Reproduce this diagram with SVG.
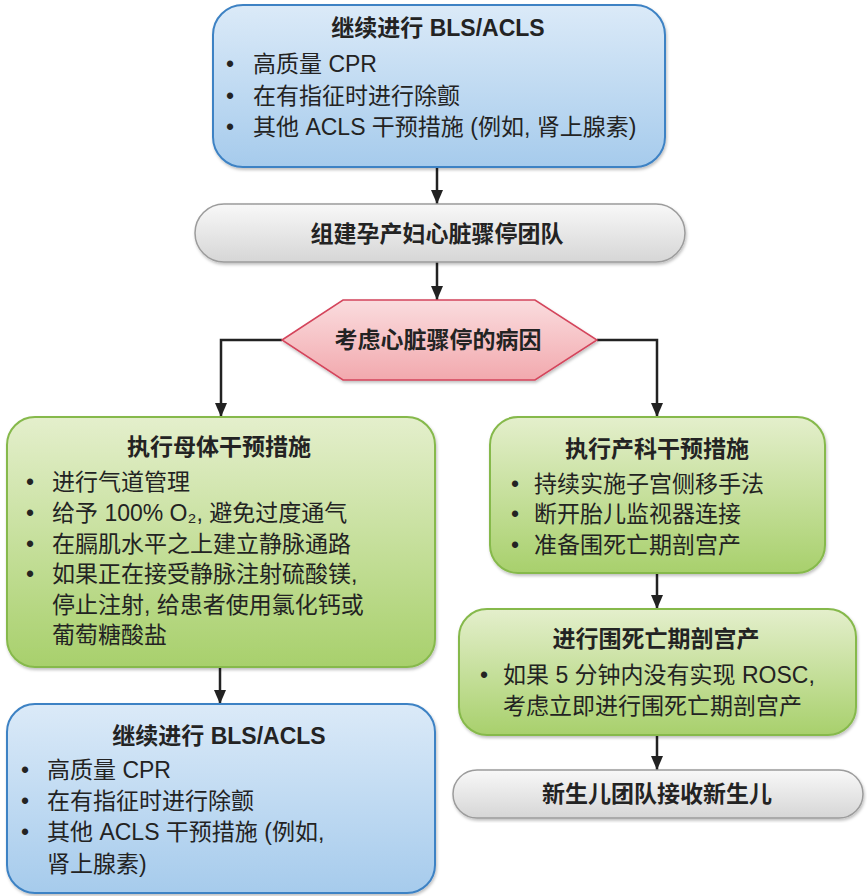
<svg xmlns="http://www.w3.org/2000/svg" width="867" height="896" viewBox="0 0 867 896">
<defs>
<linearGradient id="gBlue" x1="0" y1="0" x2="0" y2="1"><stop offset="0" stop-color="#dbeaf8"/><stop offset="1" stop-color="#a6cbec"/></linearGradient>
<linearGradient id="gGreen" x1="0" y1="0" x2="0" y2="1"><stop offset="0" stop-color="#e4efcc"/><stop offset="1" stop-color="#a8d06c"/></linearGradient>
<linearGradient id="gGray" x1="0" y1="0" x2="0" y2="1"><stop offset="0" stop-color="#f8f8f8"/><stop offset="1" stop-color="#d6d6d6"/></linearGradient>
<linearGradient id="gPink" x1="0" y1="0" x2="0" y2="1"><stop offset="0" stop-color="#fadcde"/><stop offset="1" stop-color="#f2a9ae"/></linearGradient>
<filter id="sh" x="-5%" y="-5%" width="110%" height="115%"><feDropShadow dx="1" dy="2" stdDeviation="1.5" flood-color="#000" flood-opacity="0.25"/></filter>
<marker id="arr" viewBox="0 0 14 12" refX="14" refY="6" markerWidth="14" markerHeight="12" markerUnits="userSpaceOnUse" orient="auto"><path d="M0,0 L14,6 L0,12 z" fill="#222"/></marker>
</defs>
<style>
text{font-family:"Liberation Sans","Noto Sans CJK SC",sans-serif;fill:#232323}
.t{font-size:23px;font-weight:bold;text-anchor:middle}
.b{font-size:23px}
.blue{fill:url(#gBlue);stroke:#3d82c4;stroke-width:2}
.green{fill:url(#gGreen);stroke:#86b94c;stroke-width:2}
.gray{fill:url(#gGray);stroke:#9c9c9c;stroke-width:1.5}
.pink{fill:url(#gPink);stroke:#d4445b;stroke-width:1.5}
.c{fill:none;stroke:#222;stroke-width:2.5;marker-end:url(#arr)}
</style>
<rect width="867" height="896" fill="#fff"/>

<g id="connectors">
<path class="c" d="M437,167 V204"/>
<path class="c" d="M437,262 V300"/>
<path class="c" d="M282,340 H221 V417"/>
<path class="c" d="M597,340 H657 V417"/>
<path class="c" d="M657,573 V609"/>
<path class="c" d="M657,735 V770"/>
<path class="c" d="M220,667 V704"/>
</g>

<g id="top-bls">
<rect class="blue" filter="url(#sh)" x="213" y="5" width="452" height="162" rx="30"/>
<text class="t" x="438" y="36">继续进行 BLS/ACLS</text>
<text class="b" x="226" y="72">•</text><text class="b" x="253" y="72">高质量 CPR</text>
<text class="b" x="226" y="104">•</text><text class="b" x="253" y="104">在有指征时进行除颤</text>
<text class="b" x="226" y="135">•</text><text class="b" x="253" y="135">其他 ACLS 干预措施 (例如, 肾上腺素)</text>
</g>

<g id="team">
<rect class="gray" filter="url(#sh)" x="195" y="204" width="490" height="58" rx="29"/>
<text class="t" x="437" y="242">组建孕产妇心脏骤停团队</text>
</g>

<g id="cause">
<polygon class="pink" filter="url(#sh)" points="282,340 343,300 535,300 597,340 535,380 343,380"/>
<text class="t" x="438" y="348">考虑心脏骤停的病因</text>
</g>

<g id="maternal">
<rect class="green" filter="url(#sh)" x="7" y="417" width="428" height="250" rx="28"/>
<text class="t" x="219" y="455">执行母体干预措施</text>
<text class="b" x="26" y="490">•</text><text class="b" x="52" y="490">进行气道管理</text>
<text class="b" x="26" y="521">•</text><text class="b" x="52" y="521">给予 100% O₂, 避免过度通气</text>
<text class="b" x="26" y="552">•</text><text class="b" x="52" y="552">在膈肌水平之上建立静脉通路</text>
<text class="b" x="26" y="582">•</text><text class="b" x="52" y="582">如果正在接受静脉注射硫酸镁,</text>
<text class="b" x="52" y="613">停止注射, 给患者使用氯化钙或</text>
<text class="b" x="52" y="643">葡萄糖酸盐</text>
</g>

<g id="obstetric">
<rect class="green" filter="url(#sh)" x="490" y="417" width="335" height="156" rx="28"/>
<text class="t" x="657" y="457">执行产科干预措施</text>
<text class="b" x="511" y="492">•</text><text class="b" x="534" y="492">持续实施子宫侧移手法</text>
<text class="b" x="511" y="522">•</text><text class="b" x="534" y="522">断开胎儿监视器连接</text>
<text class="b" x="511" y="553">•</text><text class="b" x="534" y="553">准备围死亡期剖宫产</text>
</g>

<g id="cesarean">
<rect class="green" filter="url(#sh)" x="459" y="609" width="397" height="126" rx="28"/>
<text class="t" x="656" y="647">进行围死亡期剖宫产</text>
<text class="b" x="480" y="683">•</text><text class="b" x="503" y="683">如果 5 分钟内没有实现 ROSC,</text>
<text class="b" x="503" y="714">考虑立即进行围死亡期剖宫产</text>
</g>

<g id="neonatal">
<rect class="gray" filter="url(#sh)" x="453" y="770" width="410" height="48" rx="24"/>
<text class="t" x="657" y="802">新生儿团队接收新生儿</text>
</g>

<g id="bottom-bls">
<rect class="blue" filter="url(#sh)" x="7" y="704" width="428" height="189" rx="28"/>
<text class="t" x="219" y="744">继续进行 BLS/ACLS</text>
<text class="b" x="21" y="778">•</text><text class="b" x="47" y="778">高质量 CPR</text>
<text class="b" x="21" y="809">•</text><text class="b" x="47" y="809">在有指征时进行除颤</text>
<text class="b" x="21" y="840">•</text><text class="b" x="47" y="840">其他 ACLS 干预措施 (例如,</text>
<text class="b" x="47" y="872">肾上腺素)</text>
</g>
</svg>
